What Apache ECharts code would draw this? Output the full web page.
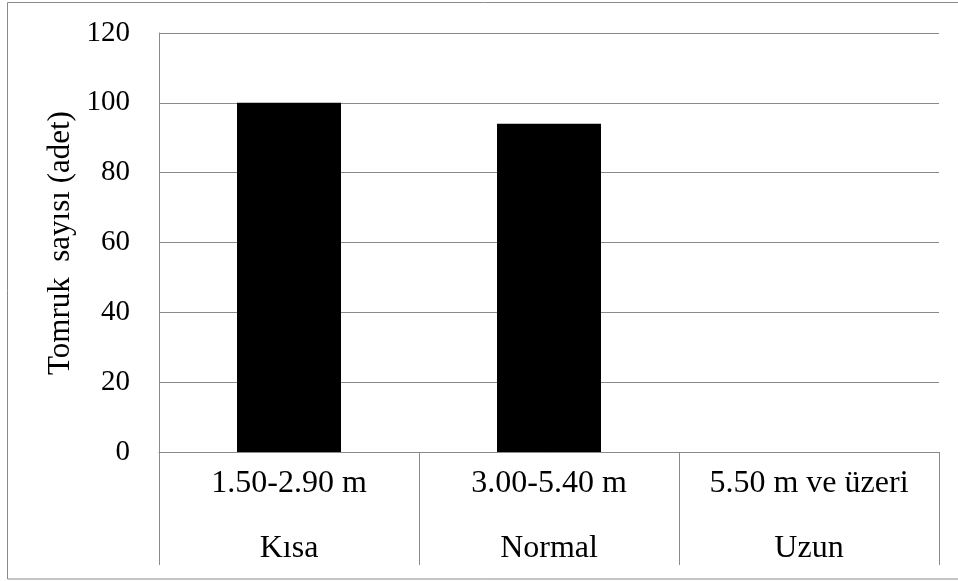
<!DOCTYPE html>
<html>
<head>
<meta charset="utf-8">
<script src="https://cdn.jsdelivr.net/npm/echarts@6/dist/echarts.min.js"></script>
<style>
  html, body { margin: 0; padding: 0; background: #fff; }
  #chart { width: 958px; height: 581px; }
</style>
</head>
<body>
<div id="chart"></div>
<script>
// Log length classes: range line and class name
const lengthRanges = ['1.50-2.90 m', '3.00-5.40 m', '5.50 m ve üzeri'];
const lengthClasses = ['Kısa', 'Normal', 'Uzun'];
// Number of logs per class
const logCounts = [100, 94, 0];
// Value axis ticks
const yMin = 0, yMax = 120, yStep = 20;
const yTitle = 'Tomruk  sayısı (adet)';

const categories = lengthRanges.map((r, i) => r + '\n' + lengthClasses[i]);
const serif = '"Liberation Serif", "Times New Roman", serif';
const lineColor = '#8a8a8a';

const chart = echarts.init(document.getElementById('chart'));
chart.setOption({
  animation: false,
  backgroundColor: '#fff',
  grid: { left: 159, top: 33, right: 19, bottom: 128, containLabel: false },
  graphic: [
    {
      type: 'rect',
      shape: { x: 7.5, y: 2.5, width: 960, height: 576.5 },
      style: { fill: 'none', stroke: '#8a8a8a', lineWidth: 1 },
      silent: true
    },
    {
      type: 'text',
      x: 61, y: 243,
      rotation: Math.PI / 2,
      style: {
        text: yTitle,
        font: '31px ' + serif,
        fill: '#000',
        align: 'center',
        verticalAlign: 'middle'
      },
      silent: true
    }
  ],
  xAxis: {
    type: 'category',
    data: categories,
    boundaryGap: true,
    axisLine: { show: true, lineStyle: { color: lineColor, width: 1 } },
    axisTick: { show: true, length: 113, alignWithLabel: false, lineStyle: { color: lineColor, width: 1 } },
    axisLabel: {
      interval: 0,
      margin: -1,
      color: '#000',
      fontFamily: serif,
      fontSize: 32,
      lineHeight: 65
    }
  },
  yAxis: {
    type: 'value',
    min: yMin, max: yMax, interval: yStep,
    axisLine: { show: true, lineStyle: { color: lineColor, width: 1 } },
    axisTick: { show: false },
    splitLine: { show: true, lineStyle: { color: lineColor, width: 1 } },
    axisLabel: { color: '#000', fontFamily: serif, fontSize: 29, margin: 29 }
  },
  series: [{
    type: 'bar',
    data: logCounts,
    barWidth: '40%',
    itemStyle: { color: '#000' }
  }]
});
</script>
</body>
</html>
